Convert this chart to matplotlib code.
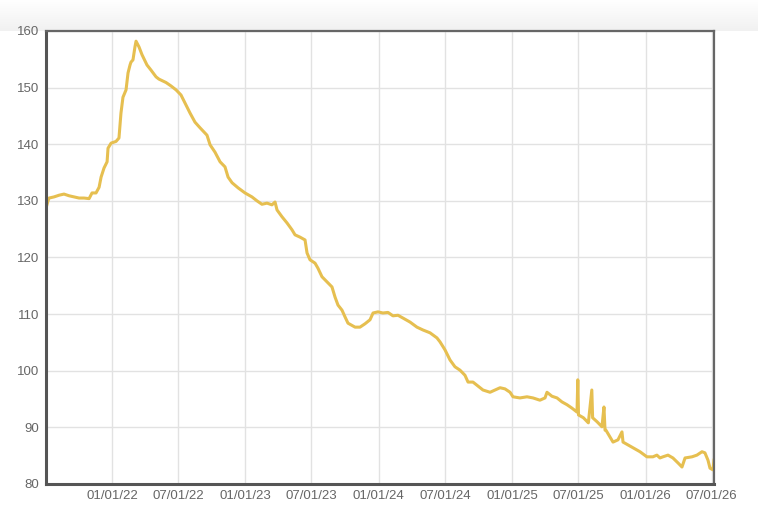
import numpy as np
import pandas as pd
import matplotlib
matplotlib.use('Agg')
import matplotlib.pyplot as plt
import matplotlib.dates as mdates

plt.rcParams['font.family'] = ['Liberation Sans', 'DejaVu Sans']

# ── data (time as decimal year) ────────────────────────────────
years = [
    2021.505, 2021.520, 2021.528, 2021.565, 2021.603, 2021.640, 2021.678, 2021.715,
    2021.753, 2021.790, 2021.828, 2021.850, 2021.880, 2021.903, 2021.918, 2021.940,
    2021.963, 2021.970, 2021.993, 2022.030, 2022.052, 2022.067, 2022.082, 2022.105,
    2022.120, 2022.135, 2022.142, 2022.157, 2022.172, 2022.180, 2022.202, 2022.225,
    2022.262, 2022.292, 2022.330, 2022.352, 2022.405, 2022.442, 2022.480, 2022.517,
    2022.547, 2022.585, 2022.622, 2022.660, 2022.712, 2022.735, 2022.772, 2022.810,
    2022.847, 2022.870, 2022.900, 2022.945, 2022.997, 2023.049, 2023.087, 2023.124,
    2023.162, 2023.199, 2023.222, 2023.237, 2023.274, 2023.312, 2023.349, 2023.372,
    2023.409, 2023.447, 2023.462, 2023.484, 2023.522, 2023.544, 2023.574, 2023.612,
    2023.649, 2023.672, 2023.694, 2023.724, 2023.747, 2023.769, 2023.822, 2023.859,
    2023.897, 2023.934, 2023.957, 2023.994, 2024.031, 2024.069, 2024.106, 2024.144,
    2024.181, 2024.234, 2024.286, 2024.331, 2024.384, 2024.436, 2024.459, 2024.496,
    2024.534, 2024.571, 2024.609, 2024.646, 2024.669, 2024.706, 2024.744, 2024.781,
    2024.834, 2024.871, 2024.909, 2024.946, 2024.984, 2025.006, 2025.058, 2025.111,
    2025.156, 2025.208, 2025.246, 2025.261, 2025.298, 2025.336, 2025.373, 2025.411,
    2025.448, 2025.486, 2025.492, 2025.497, 2025.534, 2025.571, 2025.597, 2025.603,
    2025.636, 2025.673, 2025.688, 2025.696, 2025.703, 2025.733, 2025.756, 2025.793,
    2025.823, 2025.831, 2025.868, 2025.906, 2025.958, 2026.010, 2026.055, 2026.085,
    2026.108, 2026.130, 2026.168, 2026.205, 2026.244, 2026.273, 2026.296, 2026.348,
    2026.385, 2026.423, 2026.445, 2026.468, 2026.483, 2026.505, 2026.513,
]
values = [
    128.7, 130.0, 130.5, 130.7, 131.0, 131.2, 130.9, 130.7,
    130.5, 130.5, 130.4, 131.4, 131.4, 132.4, 134.2, 135.8,
    136.9, 139.3, 140.2, 140.5, 141.1, 145.5, 148.3, 149.6,
    152.6, 154.0, 154.5, 154.9, 157.2, 158.2, 157.2, 155.8,
    154.0, 153.1, 151.9, 151.5, 150.9, 150.3, 149.6, 148.7,
    147.3, 145.5, 143.9, 142.9, 141.6, 139.9, 138.6, 136.9,
    136.0, 134.2, 133.2, 132.3, 131.4, 130.7, 130.0, 129.4,
    129.6, 129.3, 129.8, 128.4, 127.2, 126.1, 124.9, 124.0,
    123.6, 123.1, 120.8, 119.6, 119.0, 118.1, 116.6, 115.7,
    114.8, 113.0, 111.6, 110.7, 109.5, 108.4, 107.7, 107.7,
    108.3, 109.0, 110.2, 110.4, 110.2, 110.3, 109.7, 109.8,
    109.3, 108.6, 107.7, 107.2, 106.7, 105.8, 105.1, 103.7,
    101.9, 100.7, 100.1, 99.2, 98.0, 98.0, 97.3, 96.6,
    96.2, 96.6, 97.0, 96.8, 96.2, 95.4, 95.2, 95.4,
    95.2, 94.8, 95.2, 96.2, 95.5, 95.2, 94.5, 94.0,
    93.4, 92.7, 98.4, 92.2, 91.7, 90.8, 96.6, 91.7,
    91.0, 90.1, 93.6, 89.5, 89.5, 88.3, 87.4, 87.8,
    89.2, 87.4, 86.9, 86.4, 85.7, 84.8, 84.8, 85.1,
    84.6, 84.8, 85.1, 84.6, 83.7, 83.0, 84.6, 84.8,
    85.1, 85.7, 85.5, 84.2, 82.8, 82.5, 84.2,
]

X_START, X_END = 2021.505, 2026.513
Y_TICKS = [80, 90, 100, 110, 120, 130, 140, 150, 160]
X_TICKS = ['2022-01-01', '2022-07-01', '2023-01-01', '2023-07-01', '2024-01-01',
           '2024-07-01', '2025-01-01', '2025-07-01', '2026-01-01', '2026-07-01']


def to_date(y):
    return pd.Timestamp('2022-01-01') + pd.to_timedelta((y - 2022) * 365.25, unit='D')


dates = [to_date(y) for y in years]

fig = plt.figure(figsize=(7.58, 5.20), dpi=100)

# light grey band along the top of the page
bg = fig.add_axes([0, 0.94, 1, 0.06], zorder=-5)
grad = np.linspace(0, 1, 50).reshape(-1, 1)
bg.imshow(grad, aspect='auto', cmap=plt.matplotlib.colors.LinearSegmentedColormap.from_list(
    'g', ['#ffffff', '#f1f1f1']), extent=[0, 1, 0, 1])
bg.axis('off')

ax = fig.add_axes([46 / 758, 36 / 520, 668 / 758, 453 / 520])
ax.plot(dates, values, color='#e6bf50', linewidth=2.2, solid_joinstyle='round')

ax.set_xlim(to_date(X_START), to_date(X_END))
ax.set_ylim(80, 160)
ax.set_yticks(Y_TICKS)
ax.set_xticks(pd.to_datetime(X_TICKS))
ax.xaxis.set_major_formatter(mdates.DateFormatter('%m/%d/%y'))

ax.grid(True, color='#e2e2e2', linewidth=1.0)
ax.set_axisbelow(True)
ax.tick_params(length=0, labelsize=9.5, colors='#666666', pad=4)
ax.tick_params(axis='y', pad=5)

for side in ['left', 'bottom']:
    ax.spines[side].set_color('#555555')
    ax.spines[side].set_linewidth(2.2)
for side in ['top', 'right']:
    ax.spines[side].set_color('#666666')
    ax.spines[side].set_linewidth(1.6)

plt.savefig('out.png', dpi=100)
